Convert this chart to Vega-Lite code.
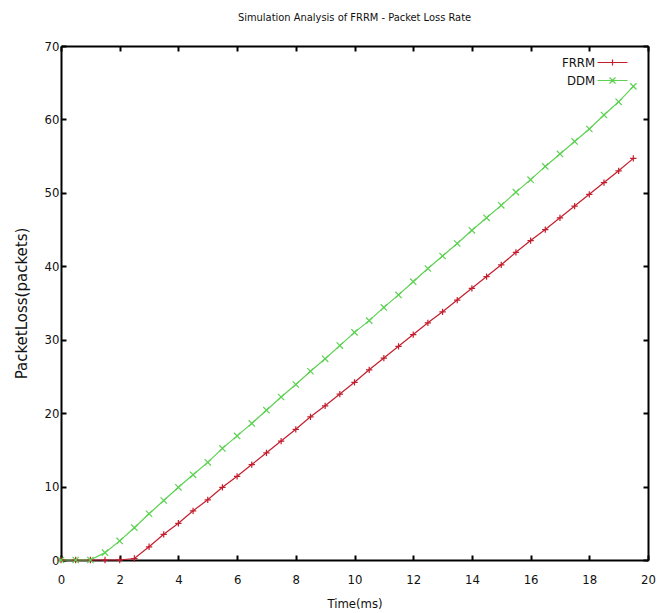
{
  "$schema": "https://vega.github.io/schema/vega-lite/v6.json",
  "width": 587,
  "height": 514,
  "autosize": {"type": "none"},
  "padding": {"left": 61, "top": 46, "right": 10, "bottom": 53},
  "background": "white",
  "title": {
    "text": "Simulation Analysis of FRRM - Packet Loss Rate",
    "font": "Liberation Sans Narrow, DejaVu Sans Condensed, Liberation Mono",
    "fontSize": 11,
    "fontWeight": "normal",
    "color": "#111",
    "anchor": "middle",
    "offset": 17
  },
  "config": {
    "view": {"stroke": null},
    "axis": {
      "domainColor": "black",
      "domainWidth": 2,
      "tickColor": "black",
      "tickWidth": 2,
      "grid": false,
      "labelFont": "Liberation Sans Narrow, DejaVu Sans Condensed, Liberation Mono",
      "labelFontSize": 13,
      "labelColor": "#111",
      "titleFont": "Liberation Sans Narrow, DejaVu Sans Condensed, Liberation Mono",
      "titleFontSize": 13,
      "titleFontWeight": "normal",
      "titleColor": "#111"
    }
  },
  "data": {
    "values": [
      {"t": 0, "loss": 0, "series": "FRRM"},
      {"t": 0.5, "loss": 0, "series": "FRRM"},
      {"t": 1, "loss": 0, "series": "FRRM"},
      {"t": 1.5, "loss": 0, "series": "FRRM"},
      {"t": 2, "loss": 0, "series": "FRRM"},
      {"t": 2.5, "loss": 0.2, "series": "FRRM"},
      {"t": 3, "loss": 1.8, "series": "FRRM"},
      {"t": 3.5, "loss": 3.5, "series": "FRRM"},
      {"t": 4, "loss": 5.0, "series": "FRRM"},
      {"t": 4.5, "loss": 6.7, "series": "FRRM"},
      {"t": 5, "loss": 8.2, "series": "FRRM"},
      {"t": 5.5, "loss": 9.9, "series": "FRRM"},
      {"t": 6, "loss": 11.4, "series": "FRRM"},
      {"t": 6.5, "loss": 13.0, "series": "FRRM"},
      {"t": 7, "loss": 14.6, "series": "FRRM"},
      {"t": 7.5, "loss": 16.2, "series": "FRRM"},
      {"t": 8, "loss": 17.8, "series": "FRRM"},
      {"t": 8.5, "loss": 19.5, "series": "FRRM"},
      {"t": 9, "loss": 21.0, "series": "FRRM"},
      {"t": 9.5, "loss": 22.6, "series": "FRRM"},
      {"t": 10, "loss": 24.2, "series": "FRRM"},
      {"t": 10.5, "loss": 25.9, "series": "FRRM"},
      {"t": 11, "loss": 27.5, "series": "FRRM"},
      {"t": 11.5, "loss": 29.1, "series": "FRRM"},
      {"t": 12, "loss": 30.7, "series": "FRRM"},
      {"t": 12.5, "loss": 32.3, "series": "FRRM"},
      {"t": 13, "loss": 33.8, "series": "FRRM"},
      {"t": 13.5, "loss": 35.4, "series": "FRRM"},
      {"t": 14, "loss": 37.0, "series": "FRRM"},
      {"t": 14.5, "loss": 38.6, "series": "FRRM"},
      {"t": 15, "loss": 40.2, "series": "FRRM"},
      {"t": 15.5, "loss": 41.9, "series": "FRRM"},
      {"t": 16, "loss": 43.5, "series": "FRRM"},
      {"t": 16.5, "loss": 45.0, "series": "FRRM"},
      {"t": 17, "loss": 46.6, "series": "FRRM"},
      {"t": 17.5, "loss": 48.2, "series": "FRRM"},
      {"t": 18, "loss": 49.8, "series": "FRRM"},
      {"t": 18.5, "loss": 51.4, "series": "FRRM"},
      {"t": 19, "loss": 53.0, "series": "FRRM"},
      {"t": 19.5, "loss": 54.7, "series": "FRRM"},
      {"t": 0, "loss": 0, "series": "DDM"},
      {"t": 0.5, "loss": 0, "series": "DDM"},
      {"t": 1, "loss": 0, "series": "DDM"},
      {"t": 1.5, "loss": 1.0, "series": "DDM"},
      {"t": 2, "loss": 2.6, "series": "DDM"},
      {"t": 2.5, "loss": 4.4, "series": "DDM"},
      {"t": 3, "loss": 6.3, "series": "DDM"},
      {"t": 3.5, "loss": 8.1, "series": "DDM"},
      {"t": 4, "loss": 9.9, "series": "DDM"},
      {"t": 4.5, "loss": 11.6, "series": "DDM"},
      {"t": 5, "loss": 13.3, "series": "DDM"},
      {"t": 5.5, "loss": 15.2, "series": "DDM"},
      {"t": 6, "loss": 16.9, "series": "DDM"},
      {"t": 6.5, "loss": 18.6, "series": "DDM"},
      {"t": 7, "loss": 20.4, "series": "DDM"},
      {"t": 7.5, "loss": 22.2, "series": "DDM"},
      {"t": 8, "loss": 23.9, "series": "DDM"},
      {"t": 8.5, "loss": 25.7, "series": "DDM"},
      {"t": 9, "loss": 27.4, "series": "DDM"},
      {"t": 9.5, "loss": 29.2, "series": "DDM"},
      {"t": 10, "loss": 31.0, "series": "DDM"},
      {"t": 10.5, "loss": 32.6, "series": "DDM"},
      {"t": 11, "loss": 34.4, "series": "DDM"},
      {"t": 11.5, "loss": 36.1, "series": "DDM"},
      {"t": 12, "loss": 37.9, "series": "DDM"},
      {"t": 12.5, "loss": 39.7, "series": "DDM"},
      {"t": 13, "loss": 41.4, "series": "DDM"},
      {"t": 13.5, "loss": 43.1, "series": "DDM"},
      {"t": 14, "loss": 44.9, "series": "DDM"},
      {"t": 14.5, "loss": 46.6, "series": "DDM"},
      {"t": 15, "loss": 48.3, "series": "DDM"},
      {"t": 15.5, "loss": 50.1, "series": "DDM"},
      {"t": 16, "loss": 51.8, "series": "DDM"},
      {"t": 16.5, "loss": 53.6, "series": "DDM"},
      {"t": 17, "loss": 55.3, "series": "DDM"},
      {"t": 17.5, "loss": 57.0, "series": "DDM"},
      {"t": 18, "loss": 58.7, "series": "DDM"},
      {"t": 18.5, "loss": 60.6, "series": "DDM"},
      {"t": 19, "loss": 62.4, "series": "DDM"},
      {"t": 19.5, "loss": 64.5, "series": "DDM"}
    ]
  },
  "resolve": {"axis": {"x": "independent", "y": "independent"}},
  "layer": [
    {
      "mark": {"type": "line", "strokeWidth": 1.2},
      "encoding": {
        "x": {
          "field": "t", "type": "quantitative",
          "scale": {"domain": [0, 20], "nice": false, "zero": false},
          "axis": {"orient": "bottom", "title": "Time(ms)", "values": [0,2,4,6,8,10,12,14,16,18,20], "tickSize": -5, "labelPadding": 18, "titlePadding": 11, "labelFlush": false}
        },
        "y": {
          "field": "loss", "type": "quantitative",
          "scale": {"domain": [0, 70], "nice": false},
          "axis": {"orient": "left", "title": "PacketLoss(packets)", "titleFont": "DejaVu Sans", "titleFontSize": 15, "values": [0,10,20,30,40,50,60,70], "tickSize": -5, "labelPadding": 7, "titlePadding": 15, "labelFlush": false}
        },
        "color": {
          "field": "series", "type": "nominal",
          "scale": {"domain": ["FRRM", "DDM"], "range": ["#c41e2e", "#5cd152"]},
          "legend": {
            "orient": "none",
            "legendX": 545,
            "legendY": 10,
            "title": null,
            "padding": 0,
            "labelAlign": "right",
            "labelOffset": -24,
            "labelFont": "Liberation Sans Narrow, DejaVu Sans Condensed, Liberation Mono",
            "labelFontSize": 13,
            "labelColor": "#111",
            "rowPadding": 4,
            "symbolSize": 36,
            "symbolType": "M-5,0L5,0M0,-1L0,1",
            "symbolStrokeWidth": 1.2,
            "encode": {
              "symbols": {
                "update": {
                  "shape": {"signal": "datum.value == 'FRRM' ? 'M-5,0L5,0M0,-1L0,1' : 'M-5,0L5,0M-1,-1L1,1M-1,1L1,-1'"},
                  "fill": {"value": "transparent"}
                }
              }
            }
          }
        }
      }
    },
    {
      "transform": [{"filter": "datum.series == 'FRRM'"}],
      "mark": {"type": "point", "filled": false, "size": 40, "strokeWidth": 1.2, "opacity": 1, "shape": "M-1,0L1,0M0,-1L0,1"},
      "encoding": {
        "x": {"field": "t", "type": "quantitative", "axis": null},
        "y": {"field": "loss", "type": "quantitative", "axis": null},
        "color": {"field": "series", "type": "nominal"}
      }
    },
    {
      "transform": [{"filter": "datum.series == 'DDM'"}],
      "mark": {"type": "point", "filled": false, "size": 40, "strokeWidth": 1.2, "opacity": 1, "shape": "M-1,-1L1,1M-1,1L1,-1"},
      "encoding": {
        "x": {"field": "t", "type": "quantitative", "axis": null},
        "y": {"field": "loss", "type": "quantitative", "axis": null},
        "color": {"field": "series", "type": "nominal"}
      }
    },
    {
      "mark": {"type": "point", "opacity": 0},
      "encoding": {
        "x": {"field": "t", "type": "quantitative", "axis": {"orient": "top", "labels": false, "title": null, "values": [0,2,4,6,8,10,12,14,16,18,20], "tickSize": -5}},
        "y": {"field": "loss", "type": "quantitative", "axis": {"orient": "right", "labels": false, "title": null, "values": [0,10,20,30,40,50,60,70], "tickSize": -5}}
      }
    }
  ]
}
